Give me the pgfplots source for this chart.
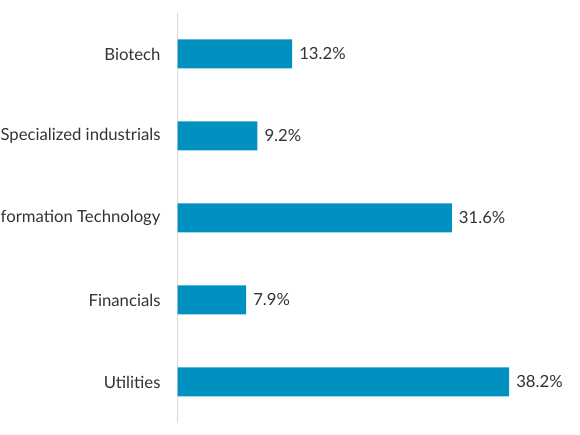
\documentclass[border=0pt]{standalone}
\usepackage{pgfplots}
\pgfplotsset{compat=1.18}
\usepackage{fontspec}
\setmainfont{Lato}
\definecolor{barblue}{RGB}{0,145,192}
\definecolor{txt}{RGB}{51,51,51}
\definecolor{axgray}{RGB}{217,217,217}
\begin{document}
\begin{tikzpicture}
\path[use as bounding box] (0,0) rectangle (580pt,435pt);
\begin{axis}[
  at={(177.5pt,12pt)}, anchor=south west,
  scale only axis,
  width=347.2pt, height=410pt,
  xbar, bar width=29pt,
  xmin=0, xmax=40,
  ymin=-0.5, ymax=4.5,
  axis x line=none,
  axis y line*=left,
  y axis line style={draw=axgray, line width=1pt},
  ytick={0,1,2,3,4},
  yticklabels={Utilities,Financials,Information Technology,Specialized industrials,Biotech},
  major tick length=0pt,
  yticklabel style={font=\fontsize{16.7}{18}\selectfont, text=txt, inner sep=0pt, xshift=-16.8pt},
  point meta=x,
  nodes near coords={\pgfmathprintnumber[fixed,precision=1,fixed zerofill]{\pgfplotspointmeta}\%},
  nodes near coords style={font=\fontsize{16.7}{18}\selectfont, text=txt, inner sep=0pt, xshift=7pt, anchor=west},
  /pgf/number format/assume math mode=true,
]
\addplot[fill=barblue, draw=none] coordinates {(38.2,0) (7.9,1) (31.6,2) (9.2,3) (13.2,4)};
\end{axis}
\end{tikzpicture}
\end{document}
